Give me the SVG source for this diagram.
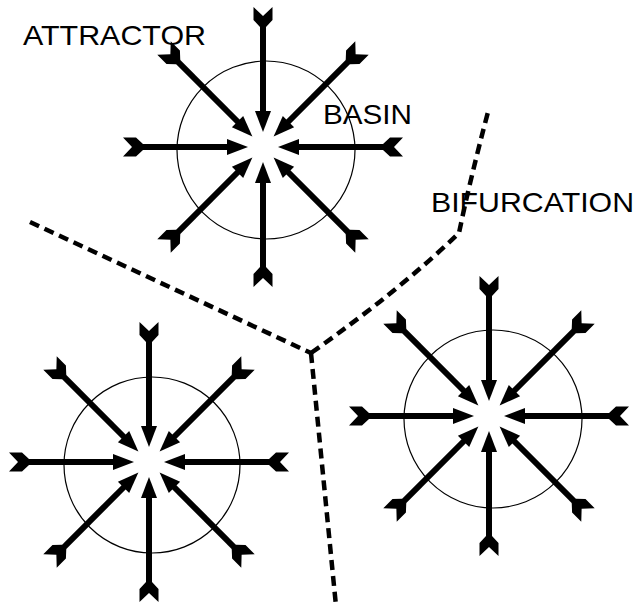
<svg xmlns="http://www.w3.org/2000/svg" xmlns:xlink="http://www.w3.org/1999/xlink" width="637" height="610" viewBox="0 0 637 610">
  <style>
    .basin { fill: none; stroke: #000; stroke-width: 1.2; }
    .boundary { fill: none; stroke: #000; stroke-width: 4.5; stroke-dasharray: 10 6; }
    .label { font-family: "Liberation Sans", Arial, sans-serif; font-size: 28px; fill: #000; }
  </style>
  <defs>
    <g id="arrow">
      <polygon points="-9.5,-140 0,-131 9.5,-140 9.5,-127 3,-120 -3,-120 -9.5,-127" fill="#000"/>
      <rect x="-3" y="-128" width="6" height="93" fill="#000"/>
      <polygon points="-8,-36 8,-36 0,-15" fill="#000"/>
    </g>
    <g id="star">
      <use xlink:href="#arrow" href="#arrow"/>
      <use xlink:href="#arrow" href="#arrow" transform="rotate(45)"/>
      <use xlink:href="#arrow" href="#arrow" transform="rotate(90)"/>
      <use xlink:href="#arrow" href="#arrow" transform="rotate(135)"/>
      <use xlink:href="#arrow" href="#arrow" transform="rotate(180)"/>
      <use xlink:href="#arrow" href="#arrow" transform="rotate(225)"/>
      <use xlink:href="#arrow" href="#arrow" transform="rotate(270)"/>
      <use xlink:href="#arrow" href="#arrow" transform="rotate(315)"/>
    </g>
  </defs>
  <rect width="637" height="610" fill="#fff"/>

  <g id="label-attractor"><text class="label" x="23" y="45" textLength="183" lengthAdjust="spacingAndGlyphs">ATTRACTOR</text></g>
  <g id="label-basin"><text class="label" x="323" y="124" textLength="89" lengthAdjust="spacingAndGlyphs">BASIN</text></g>
  <g id="label-bifurcation"><text class="label" x="431" y="212" textLength="203" lengthAdjust="spacingAndGlyphs">BIFURCATION</text></g>

  <g id="attractor-top">
    <circle class="basin" cx="266" cy="150" r="89"/>
    <use xlink:href="#star" href="#star" transform="translate(263,147)"/>
  </g>
  <g id="attractor-bottom-left">
    <circle class="basin" cx="152" cy="465" r="88"/>
    <use xlink:href="#star" href="#star" transform="translate(149,462)"/>
  </g>
  <g id="attractor-bottom-right">
    <circle class="basin" cx="493" cy="419" r="89"/>
    <use xlink:href="#star" href="#star" transform="translate(489,416)"/>
  </g>

  <g id="connectors">
    <path class="boundary" d="M30,222 L311,353"/>
    <path class="boundary" d="M311,353 Q400,290 459,233 Q470,180 488,112"/>
    <path class="boundary" d="M311,353 L336,606"/>
  </g>
</svg>
